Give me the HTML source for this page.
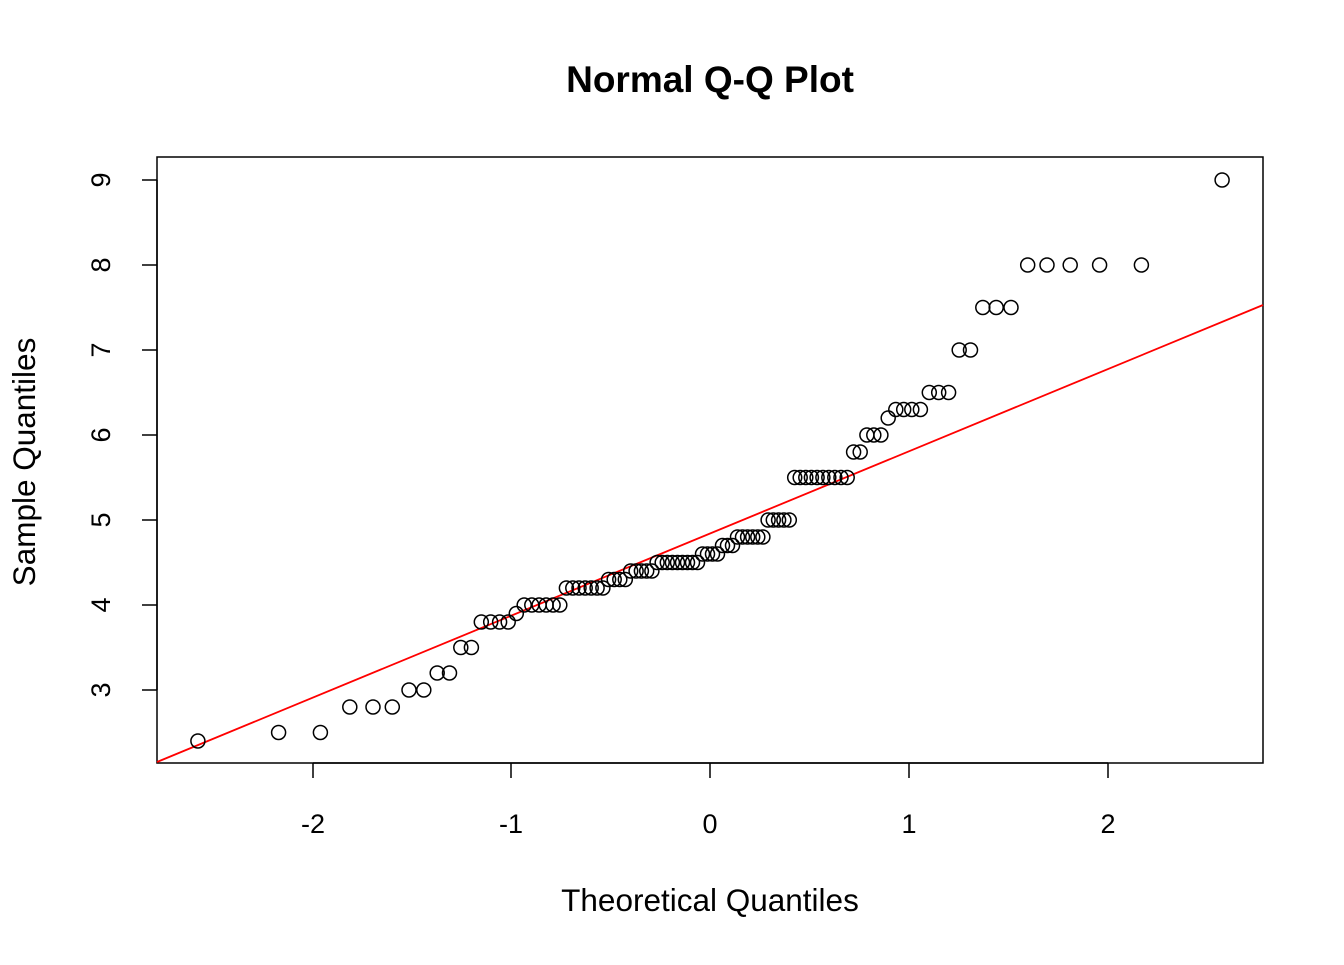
<!DOCTYPE html>
<html><head><meta charset="utf-8"><style>
html,body{margin:0;padding:0;background:#fff;}
text{font-family:"Liberation Sans",Arial,sans-serif;fill:#000;}
</style></head><body>
<svg id="s" width="1344" height="960" xmlns="http://www.w3.org/2000/svg">
<rect width="1344" height="960" fill="#fff"/>
<text x="710" y="92" font-size="37" font-weight="bold" text-anchor="middle">Normal Q-Q Plot</text>
<rect x="157" y="157" width="1106" height="606" fill="none" stroke="#000" stroke-width="1.5"/>
<g stroke="#000" stroke-width="1.5">
<line x1="313" y1="763" x2="1108" y2="763"/>
<line x1="313" y1="763" x2="313" y2="778"/>
<line x1="511" y1="763" x2="511" y2="778"/>
<line x1="710" y1="763" x2="710" y2="778"/>
<line x1="909" y1="763" x2="909" y2="778"/>
<line x1="1108" y1="763" x2="1108" y2="778"/>
<line x1="157" y1="180" x2="157" y2="690"/>
<line x1="142" y1="180" x2="157" y2="180"/>
<line x1="142" y1="265" x2="157" y2="265"/>
<line x1="142" y1="350" x2="157" y2="350"/>
<line x1="142" y1="435" x2="157" y2="435"/>
<line x1="142" y1="520" x2="157" y2="520"/>
<line x1="142" y1="605" x2="157" y2="605"/>
<line x1="142" y1="690" x2="157" y2="690"/>
</g>
<g font-size="27" text-anchor="middle">
<text x="313" y="833">-2</text><text x="511" y="833">-1</text><text x="710" y="833">0</text><text x="909" y="833">1</text><text x="1108" y="833">2</text>
<text transform="translate(110,180) rotate(-90)">9</text>
<text transform="translate(110,265) rotate(-90)">8</text>
<text transform="translate(110,350) rotate(-90)">7</text>
<text transform="translate(110,435) rotate(-90)">6</text>
<text transform="translate(110,520) rotate(-90)">5</text>
<text transform="translate(110,605) rotate(-90)">4</text>
<text transform="translate(110,690) rotate(-90)">3</text>
<text x="710" y="911" font-size="31.5">Theoretical Quantiles</text>
<text transform="translate(35,462) rotate(-90)" font-size="31.5">Sample Quantiles</text>
</g>
<line x1="157" y1="762" x2="1263" y2="305" stroke="#ff0000" stroke-width="1.8"/>
<g id="pts" fill="none" stroke="#000" stroke-width="1.5"></g>
</svg>
<script>
function qn(p){var a=[-39.69683028665376,220.9460984245205,-275.9285104469687,138.3577518672690,-30.66479806614716,2.506628277459239],
b=[-54.47609879822406,161.5858368580409,-155.6989798598866,66.80131188771972,-13.28068155288572],
c=[-0.007784894002430293,-0.3223964580411365,-2.400758277161838,-2.549732539343734,4.374664141464968,2.938163982698783],
d=[0.007784695709041462,0.3224671290700398,2.445134137142996,3.754408661907416],pl=0.02425,q,r;
if(p<pl){q=Math.sqrt(-2*Math.log(p));return (((((c[0]*q+c[1])*q+c[2])*q+c[3])*q+c[4])*q+c[5])/((((d[0]*q+d[1])*q+d[2])*q+d[3])*q+1);}
if(p>1-pl){q=Math.sqrt(-2*Math.log(1-p));return -(((((c[0]*q+c[1])*q+c[2])*q+c[3])*q+c[4])*q+c[5])/((((d[0]*q+d[1])*q+d[2])*q+d[3])*q+1);}
q=p-0.5;r=q*q;return (((((a[0]*r+a[1])*r+a[2])*r+a[3])*r+a[4])*r+a[5])*q/(((((b[0]*r+b[1])*r+b[2])*r+b[3])*r+b[4])*r+1);}
var cnt=[[2.4,1],[2.5,2],[2.8,3],[3.0,2],[3.2,2],[3.5,2],[3.8,4],[3.9,1],[4.0,6],[4.2,7],[4.3,4],[4.4,5],[4.5,9],[4.6,4],[4.7,3],[4.8,6],[5.0,5],[5.5,10],[5.8,2],[6.0,3],[6.2,1],[6.3,4],[6.5,3],[7.0,2],[7.5,3],[8.0,5],[9.0,1]];
var v=[];cnt.forEach(function(e){for(var i=0;i<e[1];i++)v.push(e[0]);});
var n=v.length,g=document.getElementById('pts'),h='';
for(var i=0;i<n;i++){var t=qn((i+0.5)/n);var x=710+t*198.8,y=180+(9-v[i])*85;
h+='<circle cx="'+x.toFixed(1)+'" cy="'+y.toFixed(1)+'" r="7"/>';}
g.innerHTML=h;
</script>
</body></html>
